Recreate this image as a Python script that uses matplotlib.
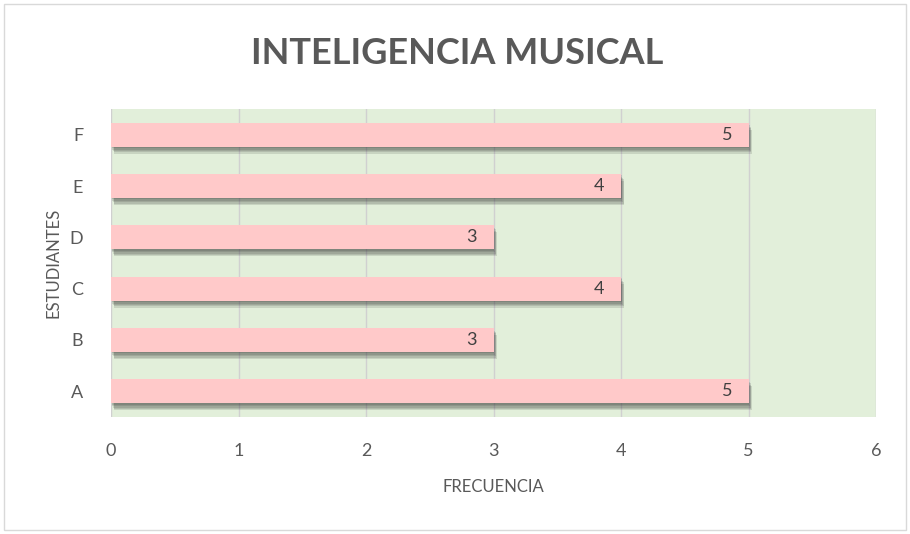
import matplotlib.pyplot as plt
import matplotlib.patheffects as pe
from matplotlib.patches import Rectangle

estudiantes = ['A', 'B', 'C', 'D', 'E', 'F']
frecuencia = [5, 3, 4, 3, 4, 5]

plt.rcParams['font.family'] = ['Lato', 'DejaVu Sans']

fig = plt.figure(figsize=(9.1, 5.34), dpi=100)
ax = fig.add_axes([111/910, 1-417/534, (876-111)/910, (417-109)/534])

# borde exterior del grafico
fig.patches.append(Rectangle((4/910, 4/534), 902/910, 526/534, transform=fig.transFigure,
                             fill=False, edgecolor='#d9d9d9', linewidth=1))

ax.set_facecolor('#e2efda')
bars = ax.barh(estudiantes, frecuencia, height=0.47, color='#ffc9c9', zorder=3)
# sombra difusa: varias capas con poca opacidad
sombra = [pe.SimplePatchShadow(offset=(0.5 + 0.5*k, -1 - 1.0*k), shadow_rgbFace='#202020', alpha=0.13)
          for k in range(5)]
for b in bars:
    b.set_path_effects(sombra + [pe.Normal()])

for b, v in zip(bars, frecuencia):
    ax.text(v - 0.17, b.get_y() + b.get_height()/2, str(v), ha='center', va='center',
            fontsize=13, color='#404040', zorder=4)

ax.set_xlim(0, 6)
ax.set_ylim(-0.5, 5.5)
ax.set_xticks(range(7))
ax.grid(axis='x', color='#d0d0d0', linewidth=1, zorder=0)
for s in ax.spines.values():
    s.set_visible(False)
ax.tick_params(length=0, labelsize=13, colors='#595959')
ax.tick_params(axis='x', pad=19)
ax.tick_params(axis='y', pad=20)

ax.set_xlabel('FRECUENCIA', fontsize=12, color='#595959', labelpad=14)
ax.set_ylabel('ESTUDIANTES', fontsize=12, color='#595959', labelpad=6)
fig.text(457/910, 1-54/534, 'INTELIGENCIA MUSICAL', ha='center', va='center',
         fontsize=26, fontweight='bold', color='#595959')

fig.savefig('out.png', dpi=100)
